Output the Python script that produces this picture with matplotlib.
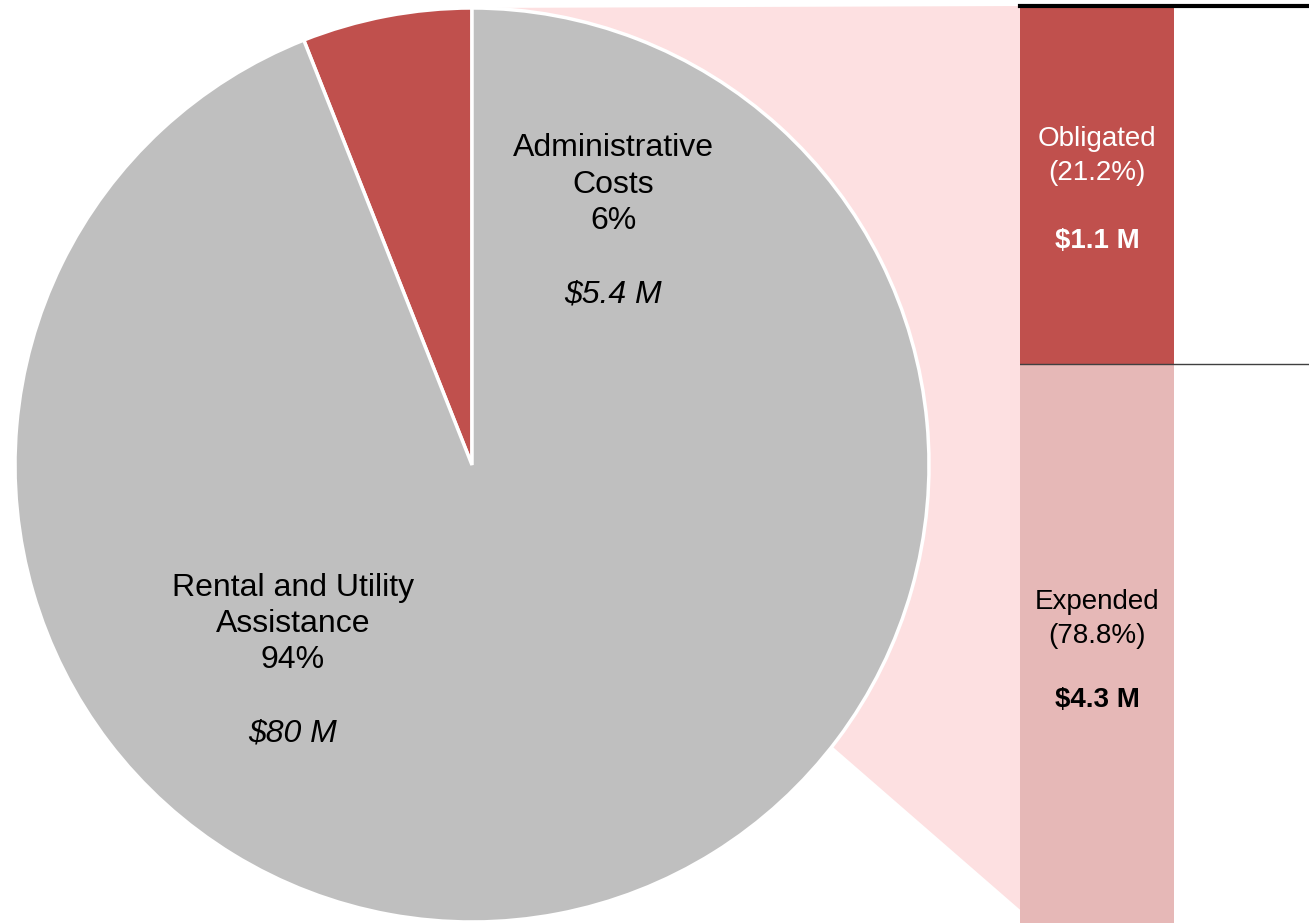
import numpy as np
import matplotlib.pyplot as plt
from matplotlib.patches import Polygon

plt.rcParams['font.family'] = ['Liberation Sans', 'DejaVu Sans']

# pie: share of total funds
pie_labels = ['Administrative\nCosts', 'Rental and Utility\nAssistance']
pie_pct = [6, 94]
pie_amount = ['$5.4 M', '$80 M']

# bar: breakdown of administrative costs
bar_labels = ['Expended', 'Obligated']
bar_pct = [78.8, 21.2]
bar_amount = ['$4.3 M', '$1.1 M']

RED = '#C0504D'
GREY = '#BFBFBF'
PINK = '#FDE0E1'
LIGHT = '#E6B8B7'

W, H = 1309, 923
fig = plt.figure(figsize=(W / 100, H / 100), dpi=100)

ax_pie = fig.add_axes([14 / W, 1 / H, 916 / W, 914 / H])
ax_bar = fig.add_axes([1020 / W, 0, 289 / W, 917 / H])
ax_pie.set_zorder(1)
ax_bar.set_zorder(2)

wedges, _ = ax_pie.pie(pie_pct, colors=[RED, GREY], startangle=90,
                       counterclock=True,
                       wedgeprops=dict(edgecolor='white', linewidth=2.5))
ax_pie.set_xlim(-1, 1)
ax_pie.set_ylim(-1, 1)
ax_pie.axis('off')

# stacked bar, top of axis = 100 %
bottom = 0
bar_w = 154 / 289
for val, col in zip(bar_pct, [LIGHT, RED]):
    ax_bar.bar(0, val, bottom=bottom, width=bar_w, align='edge', color=col)
    bottom += val
ax_bar.set_xlim(0, 1)
ax_bar.set_ylim(45.7, 100)
ax_bar.axhline(bar_pct[0], color='#404040', lw=1)
ax_bar.axhline(100, color='black', lw=3, clip_on=False)
ax_bar.axis('off')

# connector between pie and bar (runs a little under the bar to avoid a seam)
to_pie = ax_pie.transData.inverted()
top_pt = to_pie.transform(ax_bar.transData.transform((0.01, 100)))
bot_pt = to_pie.transform(ax_bar.transData.transform((0.01, 46.4)))
a0 = np.deg2rad(90)
a1 = np.deg2rad(-38)
conn = Polygon([(np.cos(a0), np.sin(a0)), top_pt, bot_pt,
                (np.cos(a1), np.sin(a1)), (0, 0)],
               closed=True, facecolor=PINK, edgecolor='none',
               zorder=0, clip_on=False)
ax_pie.add_patch(conn)

# pie labels
fs = 23
def pie_text(x, ys, lines, amount):
    for y, t in zip(ys, lines):
        ax_pie.text(x, y, t, ha='center', va='center', fontsize=fs)
    ax_pie.text(x, ys[-1] - 0.161, amount, ha='center', va='center',
                fontsize=fs, style='italic')

pie_text(0.309, [0.693, 0.612, 0.533],
         pie_labels[0].split('\n') + ['%d%%' % pie_pct[0]], pie_amount[0])
pie_text(-0.392, [-0.270, -0.348, -0.427],
         pie_labels[1].split('\n') + ['%d%%' % pie_pct[1]], pie_amount[1])

# bar labels
cx = bar_w / 2
fb = 20
ax_bar.text(cx, 92.12, bar_labels[1], ha='center', va='center', fontsize=fb, color='white')
ax_bar.text(cx, 90.11, '(%.1f%%)' % bar_pct[1], ha='center', va='center', fontsize=fb, color='white')
ax_bar.text(cx, 86.08, bar_amount[1], ha='center', va='center', fontsize=fb,
            color='white', fontweight='bold')
ax_bar.text(cx, 64.71, bar_labels[0], ha='center', va='center', fontsize=fb)
ax_bar.text(cx, 62.70, '(%.1f%%)' % bar_pct[0], ha='center', va='center', fontsize=fb)
ax_bar.text(cx, 58.91, bar_amount[0], ha='center', va='center', fontsize=fb,
            fontweight='bold')

fig.savefig('out.png', dpi=100)
